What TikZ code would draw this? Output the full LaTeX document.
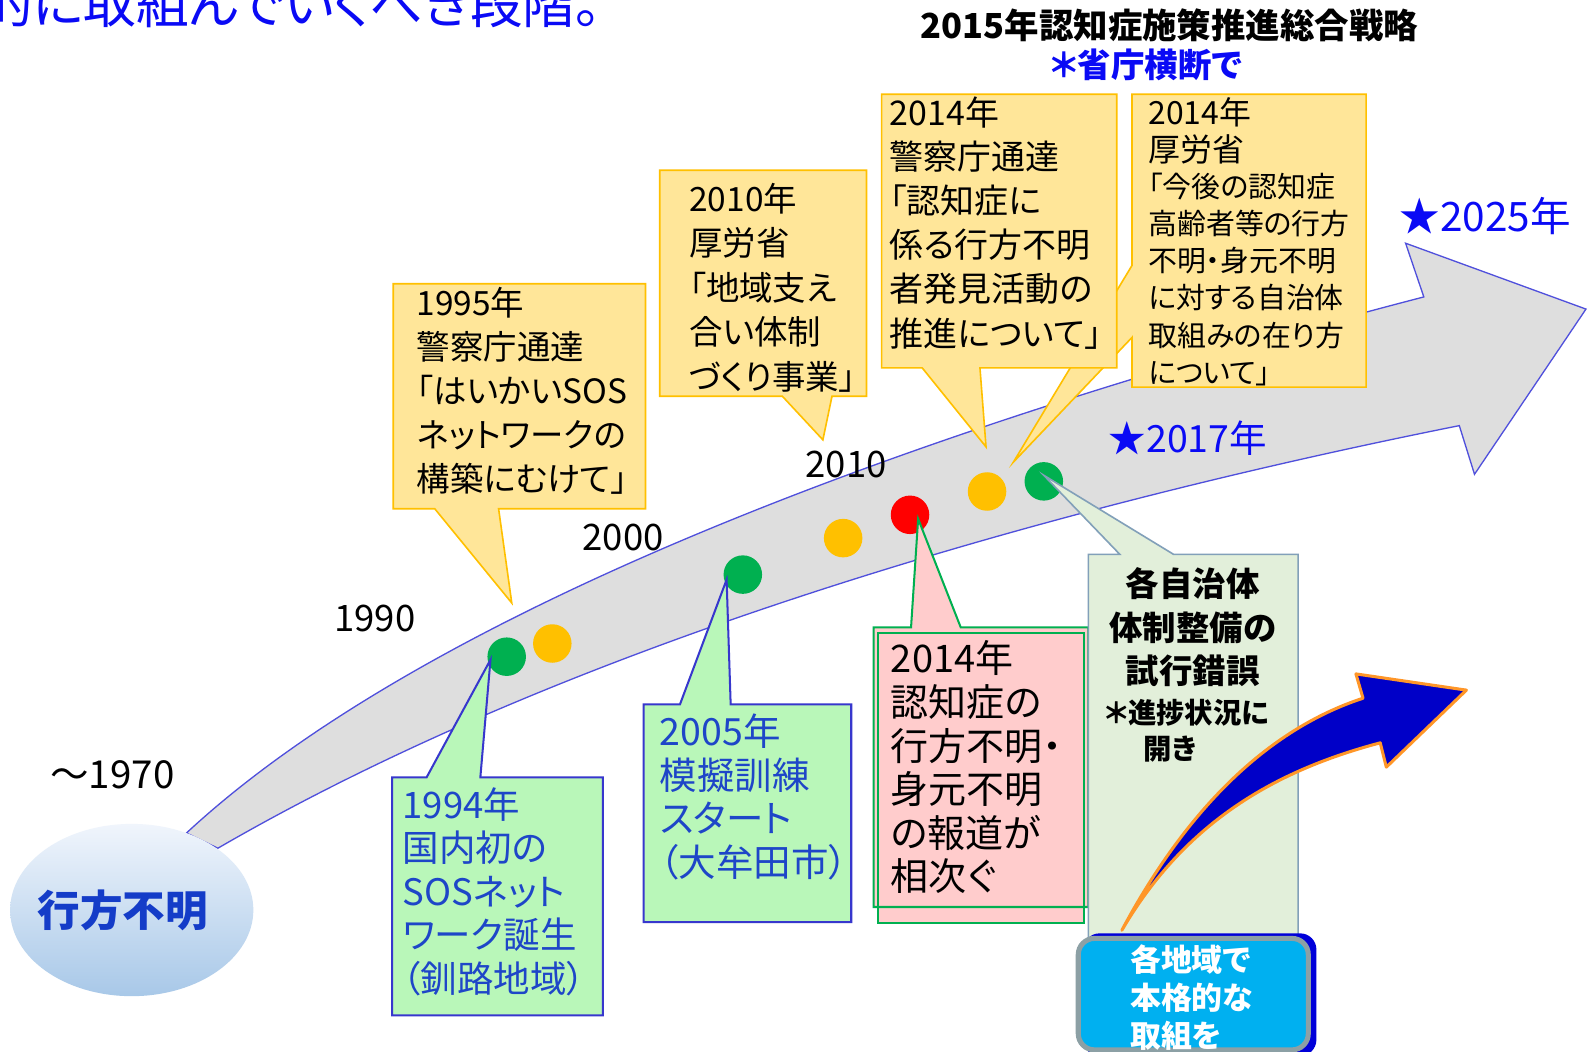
\documentclass[tikz,border=0pt]{standalone}
\usepackage{fontspec}
\setmainfont{Noto Sans CJK JP}[RawFeature=+palt]
\usetikzlibrary{shapes.geometric}
\definecolor{cyel}{RGB}{255,230,153}
\definecolor{cyelD}{RGB}{255,192,0}
\definecolor{cgrn}{RGB}{185,247,185}
\definecolor{cblueL}{RGB}{55,55,205}
\definecolor{ctxtB}{RGB}{30,70,200}
\definecolor{cpink}{RGB}{255,204,204}
\definecolor{cgreen}{RGB}{0,176,80}
\definecolor{cgg}{RGB}{226,239,218}
\definecolor{cggD}{RGB}{130,160,185}
\definecolor{ccyan}{RGB}{0,176,240}
\definecolor{ccyanD}{RGB}{140,160,165}
\definecolor{cband}{RGB}{222,222,222}
\definecolor{cbandD}{RGB}{80,80,220}
\definecolor{cdotY}{RGB}{255,192,0}
\definecolor{cred}{RGB}{255,0,0}
\definecolor{carrow}{RGB}{0,0,200}
\definecolor{corange}{RGB}{255,150,40}
\definecolor{cpureB}{RGB}{10,10,245}
\definecolor{cellT}{RGB}{240,245,252}
\definecolor{cellB}{RGB}{168,200,232}
\definecolor{cellTxt}{RGB}{20,60,200}
\begin{document}
\begin{tikzpicture}[x=1pt,y=-1pt,
  ycall/.style={fill=cyel, draw=cyelD, line width=1.6pt},
  gcall/.style={fill=cgrn, draw=cblueL, line width=2pt},
  pcall/.style={fill=cpink, draw=cgreen, line width=2pt},
  ggcall/.style={fill=cgg, draw=cggD, line width=1.6pt},
  band/.style={fill=cband, draw=cbandD, line width=1.3pt},
  txt/.style={inner sep=0pt, align=left, anchor=north west},
  yearlbl/.style={inner sep=0pt, font=\fontsize{36}{40}\selectfont},
  dot/.style={circle, inner sep=0pt, minimum size=38pt}]
\useasboundingbox (0,0) rectangle (1568,1038);
\clip (0,0) rectangle (1568,1038);
\fill[white] (0,0) rectangle (1568,1038);

% top-left clipped sentence
\node[inner sep=0pt, anchor=base east, text=cpureB, font=\fontsize{52}{56}\selectfont] (topline) at (594,23) {的に取組んでいくべき段階。};

% big grey timeline arrow
\draw[band, line join=miter] (184,822) .. controls (410,612) and (870,432) .. (1405,293) -- (1387,240) -- (1565,305) -- (1455,468) -- (1440,420) .. controls (1040,500) and (565,634) .. (215,837) -- cycle;

% start ellipse
\node[ellipse, top color=cellT, bottom color=cellB, draw=none, minimum width=240pt, minimum height=170pt] (lost) at (130,898) {};
\node[inner sep=0pt, text=cellTxt, font=\bfseries\fontsize{42}{46}\selectfont] (losttxt) at (121,898) {行方不明};

% year labels
\node[yearlbl, font=\fontsize{38}{42}\selectfont] (y1970) at (111,765) {～1970};
\node[yearlbl] (y1990) at (370,610) {1990};
\node[yearlbl] (y2000) at (615,530) {2000};
\node[yearlbl] (y2010) at (835,458) {2010};

% dots
\node[dot, fill=cgreen] (d1) at (500,648) {};
\node[dot, fill=cdotY] (d2) at (545,635) {};
\node[dot, fill=cgreen] (d3) at (733,567) {};
\node[dot, fill=cdotY] (d4) at (832,531) {};
\node[dot, fill=cred] (d5) at (898,508) {};
\node[dot, fill=cdotY] (d6) at (974,485) {};
\node[dot, fill=cgreen] (d7) at (1030,475) {};

% yellow callouts
\draw[ycall] (388,280) -- (637,280) -- (637,502) -- (492,502) -- (505,595) -- (429,502) -- (388,502) -- cycle;
\node[txt, font=\fontsize{33}{43.5}\selectfont] (t1995) at (411,283.2) {1995年\\警察庁通達\\「はいかいSOS\\ネットワークの\\構築にむけて」};

\draw[ycall] (651,168) -- (855,168) -- (855,391) -- (821,391) -- (812,434) -- (772,391) -- (651,391) -- cycle;
\node[txt, font=\fontsize{33}{44}\selectfont] (t2010) at (680,180.2) {2010年\\厚労省\\「地域支え\\合い体制\\づくり事業」};

\draw[ycall] (1117,93) -- (1348,93) -- (1348,382) -- (1117,382) -- (1117,333) -- (1000,456) -- (1117,262) -- cycle;
\node[txt, font=\fontsize{31.5}{37}\selectfont] (tmhA) at (1133,95.8) {2014年\\厚労省};
\node[txt, font=\fontsize{28.5}{36.8}\selectfont] (tmhB) at (1133,170.2) {「今後の認知症\\高齢者等の行方\\不明・身元不明\\に対する自治体\\取組みの在り方\\について」};

\draw[ycall] (870,93) -- (1102,93) -- (1102,363) -- (967,363) -- (973,441) -- (910,363) -- (870,363) -- cycle;
\node[txt, font=\fontsize{33.5}{43.6}\selectfont] (tpol) at (878,95) {2014年\\警察庁通達\\「認知症に\\係る行方不明\\者発見活動の\\推進について」};

% green callouts
\draw[gcall] (387,767) -- (421,767) -- (484,651) -- (474,767) -- (595,767) -- (595,1002) -- (387,1002) -- cycle;
\node[txt, text=ctxtB, font=\fontsize{36}{43}\selectfont] (t1994) at (397,776.8) {1994年\\国内初の\\SOSネット\\ワーク誕生\\（釧路地域）};

\draw[gcall] (635,695) -- (671,695) -- (717,572) -- (721,695) -- (840,695) -- (840,910) -- (635,910) -- cycle;
\node[txt, text=ctxtB, font=\fontsize{37}{43}\selectfont] (t2005) at (651,704.4) {2005年\\模擬訓練\\スタート\\（大牟田市）};

% pink callout
\fill[cpink] (866,625) rectangle (1070,911);
\draw[pcall] (862,619) -- (899,619) -- (906,512) -- (948,619) -- (1074,619) -- (1074,895) -- (862,895) -- cycle;
\draw[draw=cgreen, line width=2pt] (866,625) rectangle (1070,911);
\node[txt, font=\fontsize{37.5}{43}\selectfont] (tpink) at (879,632.1) {2014年\\認知症の\\行方不明・\\身元不明\\の報道が\\相次ぐ};

% grey-green callout
\draw[ggcall] (1074,547) -- (1105,547) -- (1030,469) -- (1158,547) -- (1281,547) -- (1281,935) -- (1074,935) -- cycle;
\node[inner sep=0pt, align=center, anchor=north, font=\bfseries\fontsize{33}{43}\selectfont] (tggA) at (1177,560) {各自治体\\体制整備の\\試行錯誤};
\node[txt, font=\bfseries\fontsize{28}{36}\selectfont] (tggB) at (1090,689.4) {＊進捗状況に\\\hspace*{38pt}開き};

% curved blue arrow
\draw[fill=carrow, draw=corange, line width=3pt, line join=round] (1107,918) .. controls (1170,800) and (1250,720) .. (1345,689) -- (1338,665) -- (1447,681) -- (1368,757) -- (1362,733) .. controls (1260,760) and (1170,810) .. (1107,918) -- cycle;

% blue rounded box
\fill[rounded corners=16pt, fill=blue!85!black] (1069,921) rectangle (1299,1042);
\draw[rounded corners=16pt, fill=ccyan, draw=ccyanD, line width=5pt] (1064,926) rectangle (1291,1036);
\node[txt, text=white, font=\bfseries\fontsize{30.5}{37.5}\selectfont] (tblue) at (1115,932.3) {各地域で\\本格的な\\取組を};

% headings
\node[inner sep=0pt, font=\bfseries\fontsize{34}{36}\selectfont] (title) at (1154,25) {2015年認知症施策推進総合戦略};
\node[inner sep=0pt, text=cpureB, font=\bfseries\fontsize{33}{36}\selectfont] (cross) at (1131,64) {＊省庁横断で};
\node[inner sep=0pt, anchor=west, text=cpureB, font=\fontsize{40}{44}\selectfont] (s2025) at (1381,213) {★2025年};
\node[inner sep=0pt, anchor=west, text=cpureB, font=\fontsize{37}{40}\selectfont] (s2017) at (1094,432) {★2017年};
\end{tikzpicture}
\end{document}
